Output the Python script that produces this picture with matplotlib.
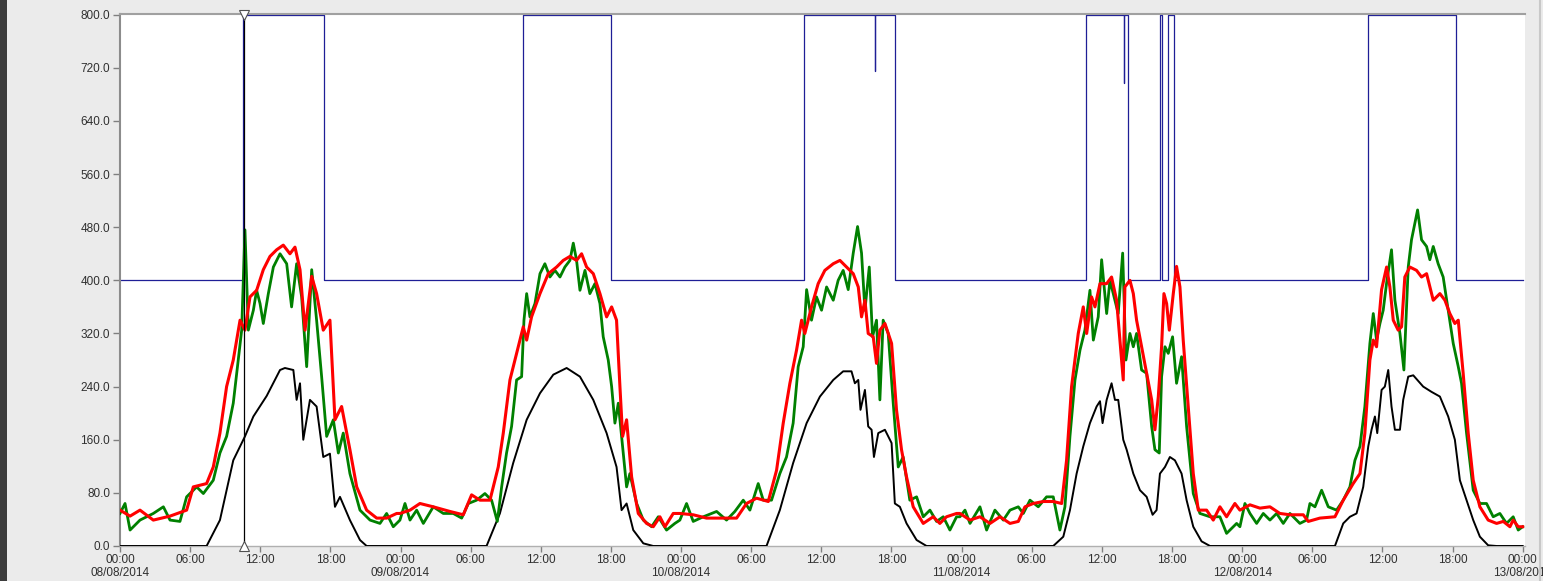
import numpy as np
import matplotlib.pyplot as plt
from matplotlib.patches import Rectangle
from matplotlib.lines import Line2D

plt.rcParams['font.family'] = ['Liberation Sans', 'DejaVu Sans']

# hours since 08/08/2014 00:00
black_t = [0, 7.41, 8.55, 9.69, 10.69, 11.41, 12.55, 13.69, 14.11, 14.83, 15.11, 15.40, 15.68, 16.25, 16.82, 17.39, 17.96, 18.39, 18.82, 19.67, 20.53, 21.10,
           31.36, 32.50, 33.64, 34.79, 35.93, 37.07, 38.21, 39.35, 40.49, 41.63, 42.48, 42.91, 43.34, 43.91, 44.77, 45.62,
           55.31, 56.45, 57.59, 58.74, 59.88, 61.02, 61.87, 62.58, 62.87, 63.16, 63.35, 63.73, 64.01, 64.30, 64.50, 64.87, 65.44, 66.01, 66.29, 66.72, 67.29, 68.15, 69.00,
           79.84, 80.70, 81.27, 81.84, 82.41, 82.98, 83.55, 83.84, 84.06, 84.41, 84.83, 85.12, 85.40, 85.83, 86.12, 86.69, 87.26, 87.83, 88.34, 88.68, 88.97, 89.40, 89.82, 90.25, 90.82, 91.25, 91.82, 92.53, 93.25,
           103.94, 104.65, 105.22, 105.79, 106.36, 106.79, 107.07, 107.36, 107.56, 107.93, 108.21, 108.50, 108.78, 109.07, 109.50, 109.78, 110.21, 110.64, 111.49, 112.21, 112.92, 113.63, 114.20, 114.63, 115.20, 115.77, 116.34, 117.05, 117.77, 120]
black_v = [0, 0, 39, 129, 165, 195, 226, 265, 268, 265, 220, 245, 160, 220, 210, 134, 139, 59, 74, 39, 9, 0,
           0, 49, 125, 190, 230, 258, 268, 255, 220, 170, 119, 54, 64, 24, 4, 0,
           0, 54, 125, 185, 225, 250, 263, 263, 245, 250, 205, 235, 180, 175, 134, 170, 175, 155, 64, 59, 34, 9, 0,
           0, 14, 54, 109, 150, 185, 210, 218, 185, 220, 245, 220, 220, 160, 145, 109, 84, 74, 47, 54, 109, 119, 134, 129, 109, 69, 29, 7, 0,
           0, 34, 44, 49, 89, 150, 175, 195, 170, 235, 240, 265, 210, 175, 175, 220, 255, 257, 240, 232, 225, 195, 160, 99, 69, 39, 14, 1, 0, 0]

red_t = [0, 0.86, 1.71, 2.85, 4.28, 5.70, 6.27, 7.41, 7.98, 8.55, 9.12, 9.69, 10.27, 10.69, 11.12, 11.69, 12.26, 12.83, 13.40, 13.97, 14.54, 14.97, 15.40, 15.83, 16.40, 16.82, 17.39, 17.96, 18.39, 18.96, 19.67, 20.25, 21.10, 21.96, 22.81, 23.67,
         23.95, 24.81, 25.66, 26.80, 28.23, 29.37, 30.08, 30.79, 31.65, 32.36, 32.79, 33.36, 33.93, 34.50, 34.79, 35.21, 35.93, 36.64, 37.35, 37.92, 38.49, 39.06, 39.49, 39.92, 40.49, 41.06, 41.63, 42.06, 42.48, 42.77, 43.00, 43.34, 43.77, 44.34, 45.05, 45.62, 46.19, 46.62, 47.33,
         47.90, 49.04, 50.18, 51.32, 52.75, 53.60, 54.46, 55.46, 56.17, 56.74, 57.31, 57.88, 58.31, 58.59, 59.16, 59.73, 60.30, 61.02, 61.59, 62.16, 62.73, 63.16, 63.44, 63.73, 64.01, 64.44, 64.72, 65.01, 65.44, 66.01, 66.43, 66.86, 67.29, 67.86, 68.72, 69.57, 70.14, 70.71, 71.57,
         71.86, 72.72, 73.57, 74.43, 75.28, 76.14, 76.85, 77.42, 78.13, 78.99, 79.84, 80.56, 80.98, 81.41, 81.98, 82.41, 82.70, 83.12, 83.41, 83.84, 84.41, 84.83, 85.26, 85.83, 85.97, 86.40, 86.69, 86.97, 87.40, 87.83, 88.26, 88.54, 88.83, 89.11, 89.31, 89.54, 89.77, 90.11, 90.39, 90.68, 90.96, 91.39, 91.82, 92.25, 92.96, 93.53, 94.10, 94.67, 95.38,
         95.81, 96.67, 97.52, 98.38, 99.23, 100.09, 101.23, 101.66, 102.65, 103.94, 104.65, 105.50, 106.08, 106.50, 106.93, 107.22, 107.50, 107.93, 108.36, 108.64, 108.93, 109.35, 109.64, 109.92, 110.35, 110.92, 111.35, 111.78, 112.35, 112.92, 113.35, 113.77, 114.20, 114.49, 114.91, 115.34, 115.77, 116.34, 117.05, 117.77, 118.34, 118.91, 119.19, 119.62, 120.0]
red_v = [54, 45, 54, 39, 45, 54, 89, 94, 119, 170, 240, 280, 340, 325, 375, 385, 416, 436, 446, 453, 440, 450, 416, 325, 406, 380, 325, 340, 190, 210, 145, 89, 54, 42, 42, 49,
         49, 54, 64, 59, 52, 47, 77, 69, 69, 119, 170, 250, 290, 330, 310, 345, 380, 410, 420, 430, 436, 430, 440, 420, 410, 380, 345, 360, 340, 240, 165, 190, 104, 49, 34, 29, 44, 29, 49,
         49, 47, 42, 42, 42, 64, 72, 67, 114, 185, 245, 295, 340, 320, 360, 395, 415, 425, 430, 420, 410, 390, 345, 370, 320, 315, 275, 325, 335, 305, 205, 145, 104, 59, 34, 44, 34, 44, 49,
         49, 39, 44, 34, 44, 34, 37, 59, 64, 67, 67, 64, 129, 240, 320, 360, 320, 375, 360, 395, 395, 405, 370, 250, 390, 400, 380, 340, 300, 260, 220, 175, 225, 300, 380, 365, 325, 380, 421, 390, 310, 210, 109, 54, 54, 39, 59, 44, 64,
         54, 62, 57, 59, 49, 47, 47, 37, 42, 44, 69, 94, 109, 170, 280, 310, 300, 386, 420, 390, 340, 325, 330, 405, 420, 415, 405, 410, 370, 380, 370, 350, 335, 340, 260, 170, 99, 59, 39, 34, 37, 29, 39, 29, 29]

green_t = [0, 0.43, 0.86, 1.71, 2.85, 3.71, 4.28, 5.13, 5.70, 6.56, 7.13, 7.98, 8.55, 9.12, 9.69, 10.12, 10.41, 10.69, 10.98, 11.41, 11.69, 11.98, 12.26, 12.69, 13.12, 13.69, 14.26, 14.68, 15.11, 15.54, 15.97, 16.40, 16.82, 17.25, 17.68, 18.25, 18.68, 19.10, 19.67, 20.53, 21.39, 22.24, 22.81, 23.38,
           23.95, 24.38, 24.81, 25.38, 25.95, 26.80, 27.66, 28.51, 29.23, 29.80, 30.51, 31.22, 31.79, 32.28, 32.65, 33.07, 33.50, 33.93, 34.36, 34.56, 34.79, 35.07, 35.50, 35.93, 36.35, 36.78, 37.21, 37.64, 38.06, 38.49, 38.78, 39.06, 39.35, 39.78, 40.20, 40.63, 41.06, 41.34, 41.77, 42.06, 42.34, 42.63, 42.91, 43.34, 43.62, 44.20, 44.77, 45.48, 46.05, 46.76, 47.47,
           47.90, 48.47, 49.04, 49.90, 51.04, 51.89, 52.60, 53.32, 53.89, 54.60, 55.03, 55.74, 56.45, 57.02, 57.59, 58.02, 58.45, 58.74, 59.16, 59.59, 60.02, 60.45, 61.02, 61.44, 61.87, 62.30, 62.73, 63.10, 63.44, 63.73, 64.10, 64.38, 64.72, 65.01, 65.29, 65.72, 66.15, 66.58, 67.00, 67.57, 68.15, 68.72, 69.29, 69.86, 70.43, 71.00, 71.57,
           71.86, 72.29, 72.72, 73.57, 74.14, 74.85, 75.57, 76.14, 76.85, 77.28, 77.85, 78.56, 79.27, 79.84, 80.41, 80.84, 81.27, 81.70, 82.13, 82.55, 82.98, 83.27, 83.69, 83.98, 84.41, 84.69, 85.12, 85.40, 85.78, 86.06, 86.40, 86.69, 86.97, 87.40, 87.83, 88.26, 88.54, 88.91, 89.11, 89.40, 89.68, 90.05, 90.39, 90.82, 91.25, 91.82, 92.39, 93.25, 94.10, 94.67, 95.53,
           95.81, 96.24, 96.67, 97.24, 97.81, 98.38, 98.95, 99.52, 100.09, 100.94, 101.51, 101.80, 102.23, 102.80, 103.37, 104.08, 104.65, 105.22, 105.65, 106.08, 106.50, 106.93, 107.22, 107.50, 107.79, 108.07, 108.36, 108.78, 109.07, 109.50, 109.84, 110.21, 110.49, 111.01, 111.35, 111.78, 112.06, 112.35, 112.77, 113.20, 113.63, 114.06, 114.49, 114.77, 115.20, 115.77, 116.34, 116.91, 117.48, 118.05, 118.62, 119.19, 119.62, 120.0]
green_v = [49, 64, 24, 39, 49, 59, 39, 37, 74, 89, 79, 99, 140, 165, 215, 280, 325, 476, 325, 355, 385, 365, 335, 380, 420, 440, 425, 360, 425, 375, 270, 416, 340, 255, 165, 190, 140, 170, 109, 54, 39, 34, 49, 29,
           39, 64, 39, 54, 34, 59, 49, 49, 42, 64, 69, 79, 69, 37, 89, 140, 180, 250, 255, 340, 380, 345, 365, 410, 425, 405, 415, 405, 420, 430, 456, 430, 385, 415, 380, 395, 365, 315, 280, 240, 185, 215, 165, 89, 109, 64, 39, 29, 44, 24, 34,
           39, 64, 37, 44, 52, 39, 52, 69, 54, 94, 69, 69, 109, 134, 185, 270, 300, 386, 340, 375, 355, 390, 370, 400, 415, 386, 441, 481, 441, 355, 420, 315, 340, 220, 340, 320, 215, 119, 134, 69, 74, 44, 54, 37, 44, 24, 44,
           44, 54, 34, 59, 24, 54, 39, 54, 59, 49, 69, 59, 74, 74, 24, 59, 165, 250, 295, 325, 385, 310, 345, 431, 350, 400, 370, 350, 441, 280, 320, 300, 320, 265, 260, 180, 145, 140, 255, 300, 290, 315, 245, 285, 180, 79, 49, 44, 44, 19, 34,
           29, 64, 49, 34, 49, 39, 49, 34, 49, 34, 39, 64, 59, 84, 59, 54, 69, 89, 129, 150, 210, 305, 350, 310, 335, 355, 396, 446, 370, 320, 265, 420, 461, 506, 461, 451, 431, 451, 425, 405, 355, 305, 270, 245, 170, 84, 64, 64, 44, 49, 34, 44, 24, 29]

# step signal (value holds until next change)
blue_t = [0, 10.55, 17.45, 34.50, 41.97, 58.50, 64.57, 64.62, 66.30, 82.63, 85.86, 85.90, 86.26,
          88.96, 89.17, 89.62, 90.19, 106.79, 114.29, 120]
blue_v = [400, 800, 400, 800, 400, 800, 715, 800, 400, 800, 697, 800, 400,
          800, 400, 800, 400, 800, 400, 400]

cursor_t = 10.65
day_labels = ['08/08/2014', '09/08/2014', '10/08/2014', '11/08/2014', '12/08/2014', '13/08/2014']

W, H = 1543, 581
fig = plt.figure(figsize=(W / 100, H / 100), dpi=100, facecolor='#EBEBEB')
ax = fig.add_axes([120 / W, 1 - 546 / H, 1405 / W, 532 / H])
ax.set_facecolor('white')

# window chrome
fig.patches.append(Rectangle((0, 0), 7 / W, 1, transform=fig.transFigure,
                             facecolor='#3C3C3C', edgecolor='none', zorder=0))
fig.lines.append(Line2D([1540 / W, 1540 / W], [0, 1], transform=fig.transFigure,
                        color='#C8C8C8', lw=1.5))

ax.step(blue_t, blue_v, where='post', color='#1E1E96', lw=0.9, zorder=2)
ax.plot(black_t, black_v, color='black', lw=1.4, zorder=3)
ax.plot(green_t, green_v, color='#008000', lw=2.0, zorder=4)
ax.plot(red_t, red_v, color='#FF0000', lw=2.2, zorder=5)

# cursor line with triangle markers
ax.axvline(cursor_t, color='black', lw=0.9, zorder=6)
ax.plot([cursor_t], [800], marker='v', ms=7, mfc='white', mec='#505050', mew=0.8, clip_on=False, zorder=7)
ax.plot([cursor_t], [0], marker='^', ms=7, mfc='white', mec='#505050', mew=0.8, clip_on=False, zorder=7)

ax.set_xlim(0, 120.2)
ax.set_ylim(0, 801)

yt = np.arange(0, 801, 80)
ax.set_yticks(yt)
ax.set_yticklabels([f'{v:.1f}' for v in yt])

xt = np.arange(0, 121, 6)
xl = []
for h in xt:
    s = f'{int(h % 24):02d}:00'
    if h % 24 == 0:
        s += '\n' + day_labels[int(h // 24)]
    xl.append(s)
ax.set_xticks(xt)
ax.set_xticklabels(xl, linespacing=1.1)

ax.tick_params(axis='y', length=5, width=1, color='#808080', pad=2, labelsize=8.5, labelcolor='#303030')
ax.tick_params(axis='x', length=4, width=1, color='#808080', pad=2, labelsize=8.5, labelcolor='#303030')

for side in ['right']:
    ax.spines[side].set_visible(False)
ax.spines['left'].set_color('#8C8C8C')
ax.spines['left'].set_linewidth(1.5)
ax.spines['top'].set_color('#A0A0A0')
ax.spines['top'].set_linewidth(1.5)
ax.spines['bottom'].set_color('#B0B0B0')
ax.spines['bottom'].set_linewidth(1.0)

fig.savefig('out.png', dpi=100, facecolor=fig.get_facecolor())
